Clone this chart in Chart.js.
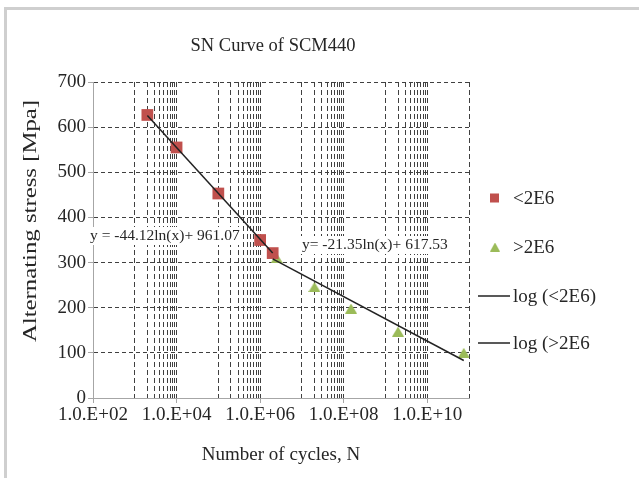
<!DOCTYPE html>
<html>
<head>
<meta charset="utf-8">
<script src="https://cdn.jsdelivr.net/npm/chart.js@4.4.0/dist/chart.umd.min.js"></script>
<style>
  html, body { margin: 0; padding: 0; background: #fff; overflow: hidden; }
  #wrap { position: relative; width: 639px; height: 478px; overflow: hidden; }
  #frame { position: absolute; left: 4px; top: 7px; width: 700px; height: 600px; border: 3px solid #cfcfcf; box-sizing: border-box; }
  canvas { position: absolute; left: 0; top: 0; }
</style>
</head>
<body>
<div id="wrap">
  <div id="frame"></div>
  <canvas id="chart" width="639" height="478"></canvas>
</div>
<script>
// values
const lowCycles = [2000, 1e4, 1e5, 1e6, 2e6]
const lowStress = [627, 555, 453, 350, 321]
const highCycles = [2.5e6, 2e7, 1.5e8, 2e9, 7.5e10]
const highStress = [310, 246, 198, 147, 100]

// trend lines (endpoints)
const trendLowCycles = [2000, 2e6]
const trendLowStress = [626, 321]
const trendHighCycles = [2e6, 7.5e10]
const trendHighStress = [308, 83]

const xMajorTicks = [1e2, 1e4, 1e6, 1e8, 1e10]
const xTickLabels = ["1.0.E+02", "1.0.E+04", "1.0.E+06", "1.0.E+08", "1.0.E+10"]
const yTicks = [0, 100, 200, 300, 400, 500, 600, 700]

const legendLabels = ["<2E6", ">2E6", "log (<2E6)", "log (>2E6"]
const equations = ["y = -44.12ln(x)+ 961.07", "y= -21.35ln(x)+ 617.53"]

const red = "#C0504D"
const green = "#9BBB59"
const textColor = "#262626"
const gridColor = "#404040"
const axisColor = "#a6a6a6"
const serif = '"Liberation Serif", "Times New Roman", serif'

// gridline positions: excel style log grid (base 100 with minor lines)
const xGridValues = []
xMajorTicks.forEach(m => {
  xGridValues.push(m)
  if (m < 1e10) {
    for (let k = 1; k <= 9; k++) xGridValues.push(m * 10 * k)
  }
})
xGridValues.push(1e11)

const toPoints = (xs, ys) => xs.map((x, i) => ({ x: x, y: ys[i] }))

const makeTriangle = (w, h, color) => {
  const c = document.createElement("canvas")
  c.width = w
  c.height = h
  const g = c.getContext("2d")
  g.fillStyle = color
  g.beginPath()
  g.moveTo(w / 2, 0)
  g.lineTo(w, h)
  g.lineTo(0, h)
  g.closePath()
  g.fill()
  return c
}

const overlay = {
  id: "overlay",
  beforeDatasetsDraw(chart) {
    const ctx = chart.ctx
    ctx.save()
    ctx.font = "15.5px " + serif
    ctx.textBaseline = "middle"
    ctx.textAlign = "left"
    const spots = [[90, 236], [302, 245]]
    equations.forEach((t, i) => {
      const w = ctx.measureText(t).width
      ctx.fillStyle = "#fff"
      ctx.fillRect(spots[i][0] - 2, spots[i][1] - 9, w + 4, 18)
      ctx.fillStyle = textColor
      ctx.fillText(t, spots[i][0], spots[i][1])
    })
    ctx.restore()
  },
  afterDraw(chart) {
    const ctx = chart.ctx
    ctx.save()
    ctx.fillStyle = textColor
    ctx.textBaseline = "middle"

    // title
    ctx.font = "18.5px " + serif
    ctx.textAlign = "center"
    ctx.fillText("SN Curve of SCM440", 273, 46)

    // y axis title (drawn wide, as in the source)
    ctx.save()
    ctx.translate(31, 221)
    ctx.rotate(-Math.PI / 2)
    ctx.scale(1.27, 1)
    ctx.font = "19.5px " + serif
    ctx.fillText("Alternating stress [Mpa]", 0, 0)
    ctx.restore()

    // legend
    ctx.font = "19px " + serif
    ctx.textAlign = "left"
    const rows = [198, 247, 296, 343]
    ctx.fillStyle = red
    ctx.fillRect(490, rows[0] - 4.5, 9, 9)
    ctx.drawImage(makeTriangle(10, 9, green), 490, rows[1] - 4.5)
    ctx.strokeStyle = "#222"
    ctx.lineWidth = 1.5
    for (let i = 2; i < 4; i++) {
      ctx.beginPath()
      ctx.moveTo(478, rows[i])
      ctx.lineTo(510, rows[i])
      ctx.stroke()
    }
    ctx.fillStyle = textColor
    legendLabels.forEach((t, i) => ctx.fillText(t, 513, rows[i] + 1))
    ctx.restore()
  }
}

new Chart(document.getElementById("chart"), {
  type: "scatter",
  data: {
    datasets: [
      {
        label: legendLabels[2],
        data: toPoints(trendLowCycles, trendLowStress),
        showLine: true,
        borderColor: "#222",
        borderWidth: 1.5,
        pointRadius: 0
      },
      {
        label: legendLabels[3],
        data: toPoints(trendHighCycles, trendHighStress),
        showLine: true,
        borderColor: "#222",
        borderWidth: 1.5,
        pointRadius: 0
      },
      {
        label: legendLabels[0],
        data: toPoints(lowCycles, lowStress),
        pointStyle: "rect",
        pointRadius: 8.3,
        backgroundColor: red,
        borderColor: red,
        borderWidth: 0
      },
      {
        label: legendLabels[1],
        data: toPoints(highCycles, highStress),
        pointStyle: makeTriangle(12, 10, green),
        pointRadius: 6,
        backgroundColor: green,
        borderColor: green
      }
    ]
  },
  options: {
    responsive: false,
    animation: false,
    layout: { padding: { left: 0, top: 82, right: 170, bottom: 0 } },
    plugins: {
      legend: { display: false },
      title: { display: false },
      tooltip: { enabled: false }
    },
    scales: {
      x: {
        type: "logarithmic",
        min: 1e2,
        max: 1e11,
        afterFit: s => { s.height = 80 },
        afterBuildTicks: s => { s.ticks = xGridValues.map(v => ({ value: v })) },
        ticks: {
          autoSkip: false,
          maxRotation: 0,
          padding: 1,
          color: textColor,
          font: { family: serif, size: 19 },
          callback: v => {
            const i = xMajorTicks.indexOf(v)
            return i >= 0 ? xTickLabels[i] : ""
          }
        },
        grid: {
          color: c => (c.tick && c.tick.value === 1e2 ? "rgba(0,0,0,0)" : gridColor),
          tickColor: c => (c.tick && xMajorTicks.includes(c.tick.value) ? axisColor : "rgba(0,0,0,0)"),
          tickLength: 5,
          lineWidth: 1
        },
        border: { color: axisColor, dash: [5, 3] },
        title: {
          display: true,
          text: "Number of cycles, N",
          color: textColor,
          font: { family: serif, size: 19 },
          padding: { top: 0, bottom: 12 }
        }
      },
      y: {
        min: 0,
        max: 700,
        afterFit: s => { s.width = 93 },
        afterBuildTicks: s => { s.ticks = yTicks.map(v => ({ value: v })) },
        ticks: {
          padding: 2,
          color: textColor,
          font: { family: serif, size: 19 }
        },
        grid: {
          color: c => (c.tick && c.tick.value === 0 ? "rgba(0,0,0,0)" : gridColor),
          tickColor: axisColor,
          tickLength: 5,
          lineWidth: 1
        },
        border: { color: axisColor, dash: [4, 3] }
      }
    }
  },
  plugins: [overlay]
})
</script>
</body>
</html>
